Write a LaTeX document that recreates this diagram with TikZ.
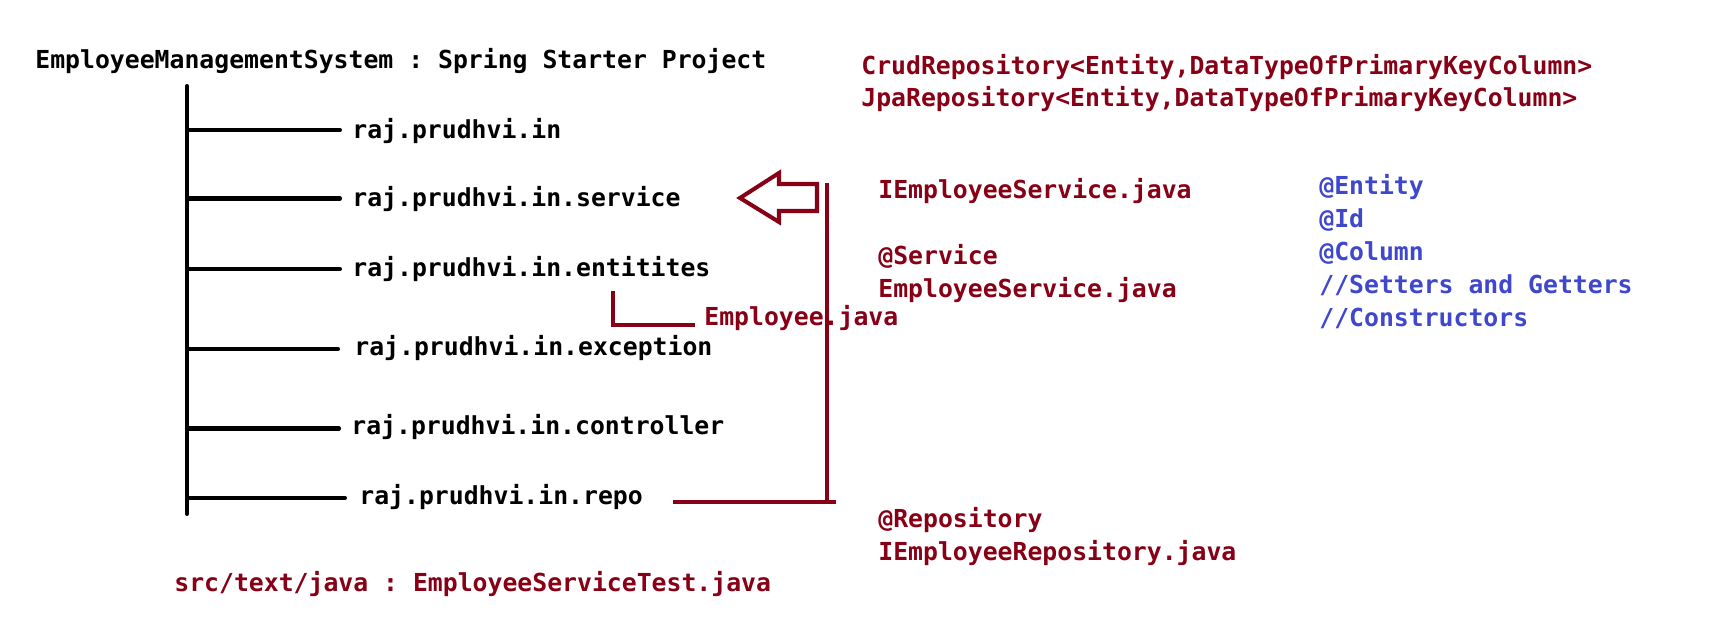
\documentclass[tikz,border=0pt]{standalone}
\usepackage{fontspec}
\setmonofont{DejaVu Sans Mono}
\definecolor{darkred}{RGB}{136,0,21}
\definecolor{paintblue}{RGB}{63,72,204}
\tikzset{
    code/.style={font=\ttfamily\bfseries\fontsize{14.1}{17}\selectfont,inner sep=0pt,anchor=base west},
    pkg/.style={code},
    redtext/.style={code,text=darkred},
    bluetext/.style={code,text=paintblue},
    tree/.style={line width=2.3pt,line cap=round},
    redline/.style={line width=2.3pt,darkred},
}

\begin{document}
\begin{tikzpicture}
    \useasboundingbox (0,0) rectangle (34.5,12.48);
    \node[code] (hdr) at (0.70,11.10) {EmployeeManagementSystem : Spring Starter Project};
    % package tree
    \coordinate (top) at (3.74,10.76);
    \coordinate (bot) at (3.74,2.20);
    \draw[tree] (top) -- (bot);
    \node[pkg] (pin) at (7.04,9.70) {raj.prudhvi.in};
    \node[pkg] (psvc) at (7.04,8.34) {raj.prudhvi.in.service};
    \node[pkg] (pent) at (7.04,6.94) {raj.prudhvi.in.entitites};
    \node[pkg] (pexc) at (7.08,5.36) {raj.prudhvi.in.exception};
    \node[pkg] (pctl) at (7.02,3.78) {raj.prudhvi.in.controller};
    \node[pkg] (prepo) at (7.18,2.38) {raj.prudhvi.in.repo};
    \draw[tree] ([yshift=0.18cm]pin.base west -| top) -- ([xshift=-0.24cm,yshift=0.18cm]pin.base west);
    \draw[tree] ([yshift=0.17cm]psvc.base west -| top) -- ([xshift=-0.24cm,yshift=0.17cm]psvc.base west);
    \draw[tree] ([yshift=0.16cm]pent.base west -| top) -- ([xshift=-0.24cm,yshift=0.16cm]pent.base west);
    \draw[tree] ([yshift=0.14cm]pexc.base west -| top) -- ([xshift=-0.32cm,yshift=0.14cm]pexc.base west);
    \draw[tree] ([yshift=0.13cm]pctl.base west -| top) -- ([xshift=-0.24cm,yshift=0.13cm]pctl.base west);
    \draw[tree] ([yshift=0.14cm]prepo.base west -| top) -- ([xshift=-0.28cm,yshift=0.14cm]prepo.base west);
    % entity class
    \node[redtext] (emp) at (14.08,5.96) {Employee.java};
    \coordinate (entmark) at (12.26,6.66);
    \draw[redline] (entmark) |- ([xshift=-0.18cm,yshift=0.02cm]emp.base west);
    % repo to service
    \coordinate (repoend) at (13.46,2.44);
    \coordinate (repocorner) at (16.72,2.44);
    \coordinate (svctop) at (16.54,8.82);
    \draw[redline] (repoend) -- (repocorner);
    \draw[redline] (svctop) -- (svctop |- repocorner);
    \draw[redline,line join=miter] (14.80,8.52) -- (15.58,9.02) -- (15.58,8.80) -- (16.34,8.80)
        -- (16.34,8.26) -- (15.58,8.26) -- (15.58,8.04) -- cycle;
    % notes
    \node[redtext] (crud) at (17.22,10.98) {CrudRepository<Entity,DataTypeOfPrimaryKeyColumn>};
    \node[redtext] (jpa) at (17.22,10.34) {JpaRepository<Entity,DataTypeOfPrimaryKeyColumn>};
    \node[redtext] (isvc) at (17.56,8.50) {IEmployeeService.java};
    \node[redtext] (atsvc) at (17.56,7.18) {@Service};
    \node[redtext] (svc) at (17.56,6.52) {EmployeeService.java};
    \node[redtext] (atrepo) at (17.56,1.92) {@Repository};
    \node[redtext] (irepo) at (17.56,1.26) {IEmployeeRepository.java};
    \node[bluetext] (atent) at (26.38,8.58) {@Entity};
    \node[bluetext] (atid) at (26.38,7.92) {@Id};
    \node[bluetext] (atcol) at (26.38,7.26) {@Column};
    \node[bluetext] (setget) at (26.38,6.60) {//Setters and Getters};
    \node[bluetext] (ctors) at (26.38,5.94) {//Constructors};
    \node[redtext] (test) at (3.48,0.64) {src/text/java : EmployeeServiceTest.java};
\end{tikzpicture}
\end{document}
